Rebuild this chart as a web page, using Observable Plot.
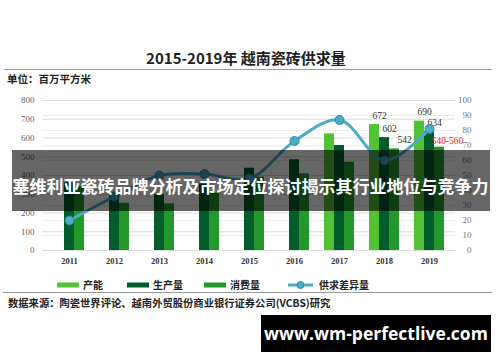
<!DOCTYPE html>
<html>
<head>
<meta charset="utf-8">
<script src="https://cdn.jsdelivr.net/npm/d3@7"></script>
<script src="https://cdn.jsdelivr.net/npm/@observablehq/plot@0.6"></script>
<style>
  html, body { margin: 0; padding: 0; background: #fff; }
  #wrap { position: relative; width: 500px; height: 362px; overflow: hidden; font-family: "Noto Sans CJK SC", "Noto Sans", sans-serif; }
  .abs { position: absolute; white-space: nowrap; }
  #title { left: 0; width: 492px; top: 49px; text-align: center; font-size: 15px; font-weight: bold; color: #222; line-height: 18px; }
  #rule1 { left: 4px; width: 488px; top: 69px; height: 0; border-top: 1.5px solid #9a9a9a; }
  #unit { left: 7px; top: 72px; font-size: 10.5px; font-weight: bold; color: #222; line-height: 14px; }
  #chart { left: 0; top: 90px; }
  #legend { left: 0; top: 278px; width: 500px; height: 14px; }
  .lg { position: absolute; top: 0; display: flex; align-items: center; font-size: 10px; font-weight: bold; color: #222; line-height: 14px; }
  #rule2 { left: 3px; width: 489px; top: 292px; height: 0; border-top: 1px solid #9a9a9a; }
  #source { left: 8px; top: 296px; font-size: 10.3px; font-weight: bold; color: #222; line-height: 14px; }
  #banner { left: 12px; width: 478px; top: 150px; height: 61px; background: rgba(0,0,0,0.6); }
  #bannerText { left: 0; width: 501px; top: 174px; text-align: center; font-size: 17px; font-weight: bold; color: #fff; line-height: 24px; }
  #wm { left: 261px; top: 315px; width: 230px; height: 37px; background: #000; color: #fff; font-family: "Open Sans", "DejaVu Sans", sans-serif; font-weight: bold; font-size: 17.5px; line-height: 37px; text-align: center; }
</style>
</head>
<body>
<div id="wrap">
  <div id="title" class="abs">2015-2019年 越南瓷砖供求量</div>
  <div id="rule1" class="abs"></div>
  <div id="unit" class="abs">单位：百万平方米</div>
  <div id="chart" class="abs"></div>
  <div id="legend" class="abs"></div>
  <div id="rule2" class="abs"></div>
  <div id="source" class="abs">数据来源：陶瓷世界评论、越南外贸股份商业银行证券公司(VCBS)研究</div>
  <div id="banner" class="abs"></div>
  <div id="bannerText" class="abs">塞维利亚瓷砖品牌分析及市场定位探讨揭示其行业地位与竞争力</div>
  <div id="wm" class="abs">www.wm-perfectlive.com</div>
</div>
<script>
// ---- data ----
const years = ["2011","2012","2013","2014","2015","2016","2017","2018","2019"];
const capacity    = [null, null, null, null, null, null, 622, 672, 690];
const production  = [360, 295, 297, 355, 439, 484, 560, 602, 634];
const consumption = [340, 252, 249, 305, 391, 409, 471, 542, 551];
const balance     = [20, 36, 50, 51, 48, 73, 87, 60, 81];
const capacityLabels    = [null, null, null, null, null, null, null, "672", "690"];
const productionLabels  = [null, null, null, null, null, null, null, "602", "634"];
const consumptionLabels = [null, null, null, null, null, null, null, "542", "540-560"];
const leftTicks  = [0, 100, 200, 300, 400, 500, 600, 700, 800];
const rightTicks = [0, 10, 20, 30, 40, 50, 60, 70, 80, 90, 100];
const seriesNames = ["产能", "生产量", "消费量", "供求差异量"];
const seriesColors = ["#52c234", "#025d2c", "#22992a", "#4bacc6"];

const rows = years.map((y, i) => ({
  year: y, capacity: capacity[i], production: production[i], consumption: consumption[i],
  balance: balance[i], capL: capacityLabels[i], prodL: productionLabels[i], consL: consumptionLabels[i]
}));
const ratio = leftTicks[leftTicks.length - 1] / rightTicks[rightTicks.length - 1];
const serif = "Liberation Serif, Times New Roman, serif";

const chart = Plot.plot({
  width: 500,
  height: 180,
  marginTop: 10,
  marginBottom: 20,
  marginLeft: 42,
  marginRight: 45,
  style: { background: "transparent", overflow: "visible" },
  x: { type: "band", domain: years, paddingInner: 0.78, paddingOuter: 0.39, axis: null },
  y: { domain: [0, 800], axis: null },
  marks: [
    Plot.gridY(rightTicks.map(d => d * ratio), { stroke: "#ececec", strokeOpacity: 1, strokeWidth: 1 }),
    Plot.gridY(leftTicks, { stroke: "#dcdcdc", strokeOpacity: 1, strokeWidth: 1 }),
    Plot.axisY({ anchor: "left", label: null, ticks: leftTicks, tickSize: 0, tickPadding: 8, fontFamily: serif, fontSize: 9, fill: "#666" }),
    Plot.axisY({ anchor: "right", label: null, ticks: rightTicks.map(d => d * ratio), tickFormat: d => d / ratio, tickSize: 0, tickPadding: 16, textAnchor: "end", fontFamily: serif, fontSize: 9, fill: "#777" }),
    Plot.axisX({ label: null, tickSize: 0, tickPadding: 7, fontFamily: serif, fontSize: 8.5, fontWeight: "bold", fill: "#333" }),
    Plot.barY(rows.filter(d => d.capacity != null), { x: "year", y: "capacity", dx: -10, fill: seriesColors[0] }),
    Plot.barY(rows, { x: "year", y: "production", dx: 0, fill: seriesColors[1] }),
    Plot.barY(rows, { x: "year", y: "consumption", dx: 10, fill: seriesColors[2] }),
    Plot.text(rows.filter(d => d.capL), { x: "year", y: "capacity", text: "capL", dx: -5, dy: -9, fontFamily: serif, fontSize: 9.5, fill: "#333" }),
    Plot.text(rows.filter(d => d.prodL), { x: "year", y: "production", text: "prodL", dx: 5, dy: -9, fontFamily: serif, fontSize: 9.5, fill: "#333" }),
    Plot.text(rows.filter(d => d.consL && d.consL.length <= 3), { x: "year", y: "consumption", text: "consL", dx: 20, dy: -9, fontFamily: serif, fontSize: 9.5, fill: "#333" }),
    Plot.text(rows.filter(d => d.consL && d.consL.length > 3), { x: "year", y: "consumption", text: "consL", dx: 18, dy: -6, fontFamily: serif, fontSize: 9.5, fill: "#ff2020" }),
    Plot.line(rows, { x: "year", y: d => d.balance * ratio, curve: "catmull-rom", stroke: seriesColors[3], strokeWidth: 3 }),
    Plot.dot(rows, { x: "year", y: d => d.balance * ratio, r: 4.5, fill: seriesColors[3], stroke: "#2f86a3", strokeWidth: 1 })
  ]
});
document.getElementById("chart").appendChild(chart);

// ---- legend ----
const legendX = [57, 127, 204, 288];
const legend = document.getElementById("legend");
seriesNames.forEach((name, i) => {
  const item = document.createElement("div");
  item.className = "lg";
  item.style.left = legendX[i] + "px";
  const isLine = i === 3;
  const w = isLine ? 25 : 22;
  const sw = d3.create("svg").attr("width", w).attr("height", 10).style("margin-right", isLine ? "6px" : "4px");
  if (isLine) {
    sw.append("line").attr("x1", 0).attr("x2", w).attr("y1", 5).attr("y2", 5).attr("stroke", seriesColors[i]).attr("stroke-width", 3);
    sw.append("circle").attr("cx", w / 2).attr("cy", 5).attr("r", 3.5).attr("fill", seriesColors[i]).attr("stroke", "#2f86a3");
  } else {
    sw.append("rect").attr("x", 0).attr("y", 2.5).attr("width", w).attr("height", 5).attr("fill", seriesColors[i]);
  }
  item.appendChild(sw.node());
  const t = document.createElement("span");
  t.textContent = name;
  item.appendChild(t);
  legend.appendChild(item);
});
</script>
</body>
</html>
